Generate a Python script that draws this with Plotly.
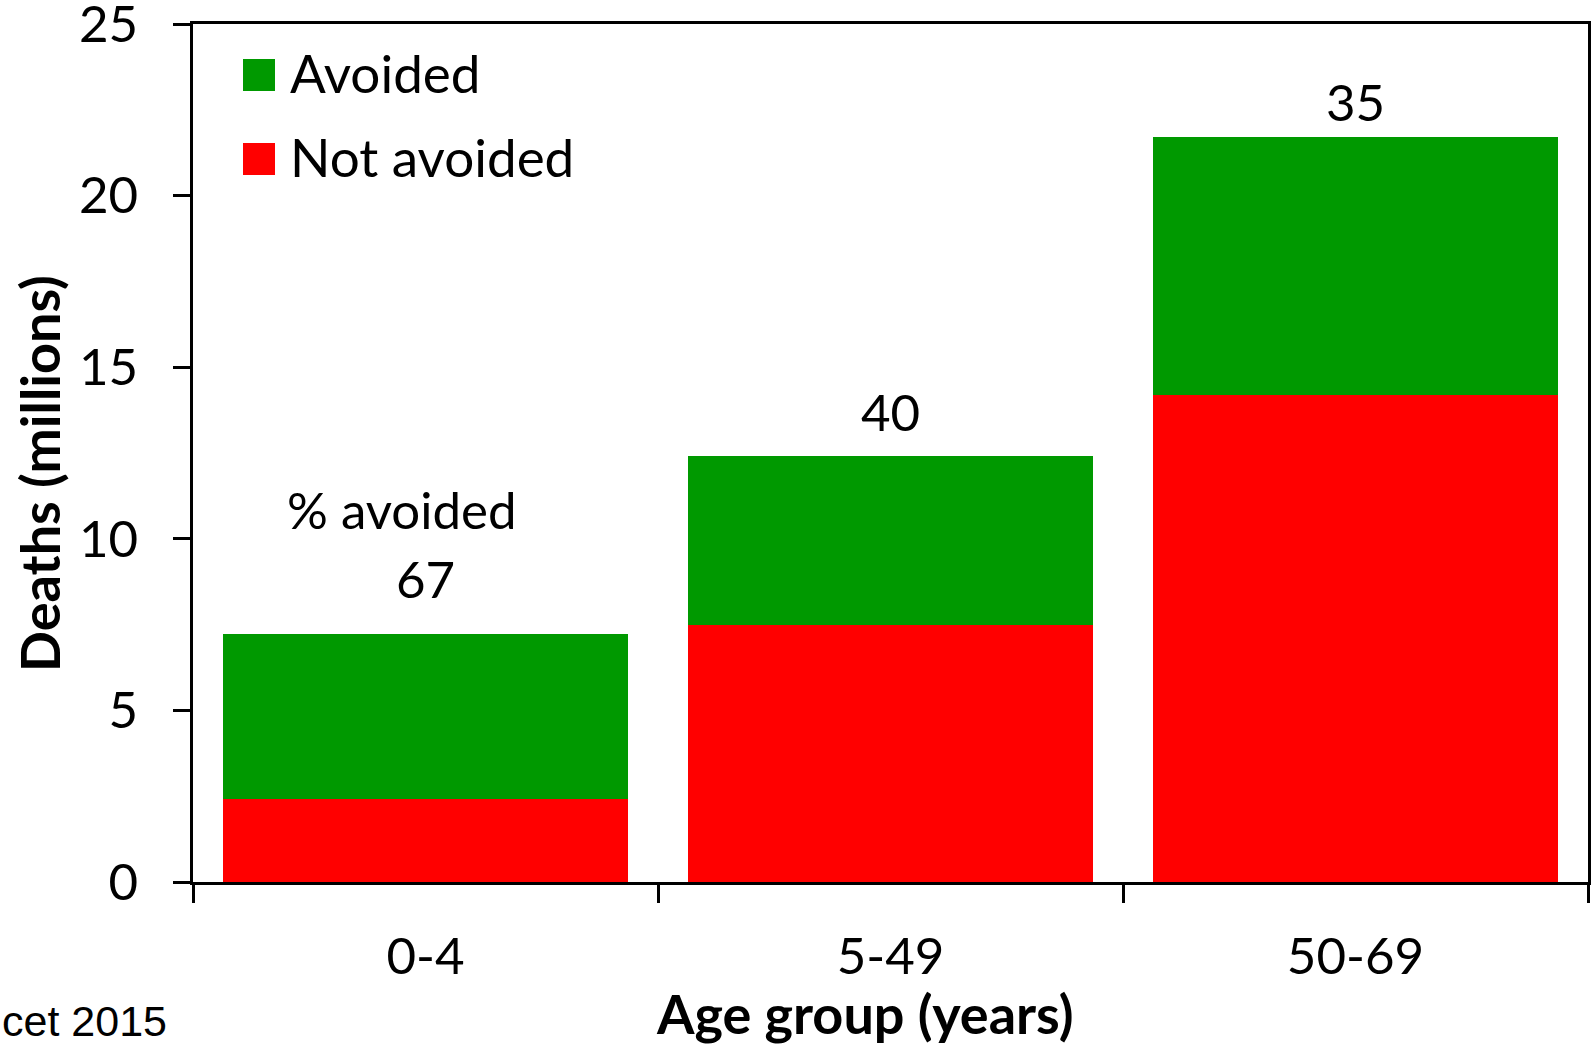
import plotly.graph_objects as go

# Data (millions of deaths)
age_groups = ["0-4", "5-49", "50-69"]
not_avoided = [2.42, 7.49, 14.19]
avoided = [4.81, 4.92, 7.52]
pct_avoided_labels = ["67", "40", "35"]

GREEN = "#009900"
RED = "#FF0000"
FONT = "Lato"
FS = 51

totals = [a + b for a, b in zip(not_avoided, avoided)]

fig = go.Figure()
fig.add_trace(go.Bar(x=age_groups, y=not_avoided, name="Not avoided",
                     marker=dict(color=RED, line=dict(width=0)), showlegend=False))
fig.add_trace(go.Bar(x=age_groups, y=avoided, name="Avoided",
                     marker=dict(color=GREEN, line=dict(width=0)), showlegend=False))

W, H = 1596, 1049
ML, MR, MT, MB = 193, 8, 24, 167
PW, PH = W - ML - MR, H - MT - MB

def px_x(x):
    return (x - ML) / PW

def px_y(y):
    return (H - MB - y) / PH

# value labels above bars
yshifts = [55, 45, 35]
for i, (cat, lab) in enumerate(zip(age_groups, pct_avoided_labels)):
    fig.add_annotation(x=cat, y=totals[i], text=lab, showarrow=False,
                       yshift=yshifts[i], yanchor="middle",
                       font=dict(family=FONT, size=FS, color="black"))
fig.add_annotation(x=age_groups[0], y=totals[0], text="% avoided", showarrow=False,
                   yshift=124, xshift=-24, yanchor="middle",
                   font=dict(family=FONT, size=FS, color="black"))

# manual legend
legend_items = [("Avoided", GREEN, 59, 91, 72), ("Not avoided", RED, 143, 175, 156)]
for name, col, top, bot, ymid in legend_items:
    fig.add_shape(type="rect", xref="paper", yref="paper",
                  x0=px_x(243), x1=px_x(275), y0=px_y(bot), y1=px_y(top),
                  fillcolor=col, line=dict(width=0))
    fig.add_annotation(xref="paper", yref="paper", x=px_x(288), y=px_y(ymid),
                       text=name, showarrow=False, xanchor="left", yanchor="middle",
                       font=dict(family=FONT, size=53, color="black"))

# axis titles
fig.add_annotation(xref="paper", yref="paper", x=px_x(864), y=px_y(1014),
                   text="<b>Age group (years)</b>", showarrow=False,
                   xanchor="center", yanchor="middle",
                   font=dict(family=FONT, size=54, color="black"))
fig.add_annotation(xref="paper", yref="paper", x=px_x(39), y=px_y(474),
                   text="<b>Deaths (millions)</b>", showarrow=False, textangle=-90,
                   xanchor="center", yanchor="middle",
                   font=dict(family=FONT, size=54, color="black"))
fig.add_annotation(xref="paper", yref="paper", x=px_x(169), y=px_y(1021),
                   text="cet 2015", showarrow=False, xanchor="right", yanchor="middle",
                   font=dict(family="Liberation Sans", size=43, color="black"))

fig.update_layout(
    template="none",
    width=W, height=H,
    margin=dict(l=ML, r=MR, t=MT, b=MB, pad=0, autoexpand=False),
    barmode="stack", bargap=0.13,
    plot_bgcolor="white", paper_bgcolor="white",
    font=dict(family=FONT, size=FS, color="black"),
    showlegend=False,
)
fig.update_xaxes(
    type="category", tickson="boundaries", ticks="outside", ticklen=18, tickwidth=2.5,
    tickcolor="black", showline=True, linecolor="black", linewidth=2.5, mirror=True,
    showgrid=False, ticklabelstandoff=28, automargin=False,
    tickfont=dict(family=FONT, size=FS, color="black"),
)
fig.update_yaxes(
    range=[0, 25], tickvals=[0, 5, 10, 15, 20, 25], ticks="outside", ticklen=17,
    tickwidth=2.5, tickcolor="black", showline=True, linecolor="black", linewidth=2.5,
    mirror=True, showgrid=False, zeroline=False, ticklabelstandoff=25,
    automargin=False, ticklabeloverflow="allow",
    tickfont=dict(family=FONT, size=FS, color="black"),
)

# remove the default 8px page margin so the figure fills the window exactly
fig.write_html("out.html", config={"displayModeBar": False},
               post_script="document.body.style.margin='0';")
